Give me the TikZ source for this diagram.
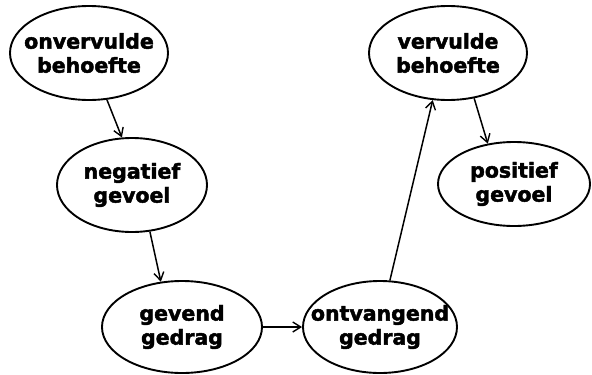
\documentclass[tikz,border=0pt]{standalone}
\usepackage{fontspec}
\setmainfont{DejaVu Sans}[BoldFeatures={FakeBold=2.2}]
\usetikzlibrary{shapes.geometric,arrows.meta}
\begin{document}
\begin{tikzpicture}[x=1pt,y=-1pt,
  bubble/.style={ellipse,draw=black,line width=1.9pt,inner sep=-30pt,align=center,
    font=\fontsize{20.5}{24}\selectfont\bfseries},
  link/.style={line width=1.5pt,-{Straight Barb[length=8pt,width=10pt,line width=1.4pt]}}]
\useasboundingbox (0,0) rectangle (592,375);
\node[bubble,minimum width=158pt,minimum height=94pt] (a) at (89,53) {onvervulde\\behoefte};
\node[bubble,minimum width=150pt,minimum height=94pt] (b) at (132,185) {negatief\\gevoel};
\node[bubble,minimum width=160pt,minimum height=92pt] (c) at (182,327) {gevend\\gedrag};
\node[bubble,minimum width=154pt,minimum height=92pt] (d) at (380,327) {ontvangend\\gedrag};
\node[bubble,minimum width=158pt,minimum height=94pt] (e) at (448,53) {vervulde\\behoefte};
\node[bubble,minimum width=152pt,minimum height=84pt] (f) at (514,184) {positief\\gevoel};
\draw[link] (a.291) -- (b.102);
\draw[link] (b.291) -- (c.115);
\draw[link] (c.east) -- (d.west);
\draw[link] (d.78) -- (e.252);
\draw[link] (e.300) -- (f.123);
\end{tikzpicture}
\end{document}
